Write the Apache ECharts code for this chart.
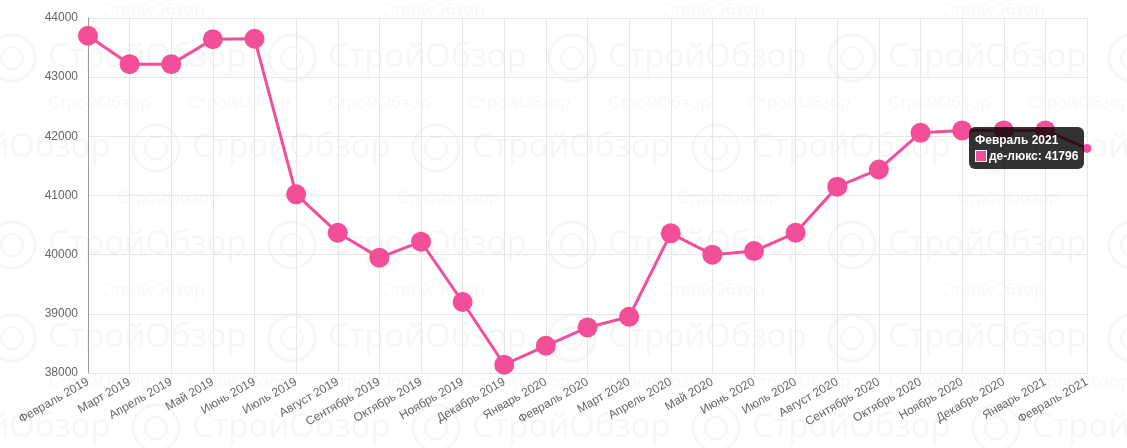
<!DOCTYPE html>
<html>
<head>
<meta charset="utf-8">
<script src="https://cdn.jsdelivr.net/npm/echarts@6/dist/echarts.min.js"></script>
<style>
html,body{margin:0;padding:0;background:#fff;}
#chart{width:1127px;height:448px;}
</style>
</head>
<body>
<div id="chart"></div>
<script>
// ---- data ----
var categories = ['Февраль 2019','Март 2019','Апрель 2019','Май 2019','Июнь 2019','Июль 2019','Август 2019','Сентябрь 2019','Октябрь 2019','Ноябрь 2019','Декабрь 2019','Январь 2020','Февраль 2020','Март 2020','Апрель 2020','Май 2020','Июнь 2020','Июль 2020','Август 2020','Сентябрь 2020','Октябрь 2020','Ноябрь 2020','Декабрь 2020','Январь 2021','Февраль 2021'];
var seriesName = 'де-люкс';
var values = [43700,43220,43220,43640,43650,41020,40370,39950,40220,39200,38140,38460,38770,38950,40360,40000,40060,40370,41150,41440,42060,42100,42100,42100,41796];
var yTicks = [38000,39000,40000,41000,42000,43000,44000];

var PINK = '#f24f98';
var FONT = 'Arial, "Liberation Sans", sans-serif';

// ---- decorative watermark ----
var wm = [];
var WM = 'rgba(0,0,0,0.035)';
function bigRow(y, start){
  for (var x = start; x < 1127; x += 280){
    wm.push({type:'text', z:-10, silent:true, style:{text:'СтройОбзор', x:x, y:y, fontSize:33, fontFamily:'"Open Sans", sans-serif', fill:WM, verticalAlign:'middle'}});
    wm.push({type:'circle', z:-10, silent:true, shape:{cx:x+244, cy:y, r:23}, style:{fill:'none', stroke:WM, lineWidth:3}});
    wm.push({type:'circle', z:-10, silent:true, shape:{cx:x+244, cy:y, r:11}, style:{fill:'none', stroke:WM, lineWidth:2}});
  }
}
function smallRow(y, start, step){
  for (var x = start; x < 1127; x += step){
    wm.push({type:'text', z:-10, silent:true, style:{text:'СтройОбзор', x:x, y:y, fontSize:17, fontFamily:'"Open Sans", sans-serif', fill:WM, verticalAlign:'middle'}});
  }
}
bigRow(58, 48 - 280);
bigRow(148, 192 - 280);
bigRow(245, 48 - 280);
bigRow(338, 48 - 280);
bigRow(428, 192 - 280);
smallRow(10, 102, 280);
smallRow(103, 48, 140);
smallRow(198, 117, 280);
smallRow(290, 102, 280);
smallRow(382, 48, 140);

var chart = echarts.init(document.getElementById('chart'), null, {renderer:'canvas'});
var seriesData = values.map(function(v, i){
  return i === values.length - 1 ? {value:v, symbolSize:9} : v;
});

chart.setOption({
  animation: false,
  backgroundColor: '#fff',
  textStyle: {fontFamily: FONT},
  graphic: wm,
  grid: {left: 88, right: 40, top: 18, bottom: 75, containLabel: false},
  tooltip: {
    trigger: 'item',
    triggerOn: 'none',
    alwaysShowContent: true,
    backgroundColor: 'rgba(0,0,0,0.8)',
    borderWidth: 0,
    borderRadius: 6,
    padding: [5, 6],
    extraCssText: 'box-shadow:none;',
    position: function(){ return [969, 127]; },
    formatter: function(p){
      return '<div style="font:bold 12px Arial,\'Liberation Sans\',sans-serif;color:#fff;line-height:16px;">' +
        categories[p.dataIndex] + '<br>' +
        '<span style="display:inline-block;width:12px;height:12px;background:' + PINK + ';border:1px solid #fff;box-sizing:border-box;vertical-align:-2px;margin-right:2px;"></span>' +
        p.seriesName + ': ' + p.value + '</div>';
    }
  },
  xAxis: {
    type: 'category',
    data: categories,
    boundaryGap: false,
    axisLine: {show: true, lineStyle: {color: '#e6e6e6', width: 1}},
    axisTick: {show: false},
    splitLine: {show: true, lineStyle: {color: '#e6e6e6', width: 1}},
    axisLabel: {
      interval: 0,
      rotate: 30,
      margin: 8,
      color: '#666',
      fontSize: 12,
      fontFamily: FONT
    }
  },
  yAxis: {
    type: 'value',
    min: yTicks[0],
    max: yTicks[yTicks.length - 1],
    interval: 1000,
    axisLine: {show: true, lineStyle: {color: '#9a9a9a', width: 1}},
    axisTick: {show: false},
    splitLine: {show: true, lineStyle: {color: '#e6e6e6', width: 1}},
    axisLabel: {color: '#666', fontSize: 12, margin: 10, fontFamily: FONT, formatter: function(v){ return String(v); }}
  },
  series: [{
    name: seriesName,
    type: 'line',
    data: seriesData,
    symbol: 'circle',
    symbolSize: 20,
    showAllSymbol: true,
    lineStyle: {color: PINK, width: 3},
    itemStyle: {color: PINK, borderWidth: 0},
    emphasis: {disabled: true},
    z: 5
  }]
});

chart.dispatchAction({type: 'showTip', seriesIndex: 0, dataIndex: values.length - 1});
</script>
</body>
</html>
